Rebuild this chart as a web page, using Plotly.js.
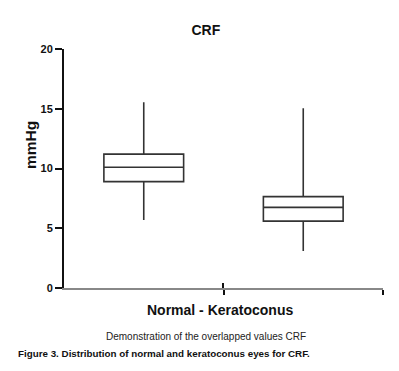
<!DOCTYPE html>
<html><head><meta charset="utf-8">
<script src="https://cdn.plot.ly/plotly-3.0.1.min.js"></script>
<style>html,body{margin:0;padding:0;background:#fff}#c{width:399px;height:371px}</style>
</head><body><div id="c"></div>
<script>
var groups = ["Normal", "Keratoconus"];
var lowerWhisker = [5.7, 3.1];
var q1 = [8.9, 5.6];
var median = [10.1, 6.75];
var q3 = [11.2, 7.65];
var upperWhisker = [15.55, 15.05];
var yTicks = [0, 5, 10, 15, 20];

var traces = groups.map(function(g, i){
  return {
    type: 'box', name: g, x: [i],
    q1: [q1[i]], median: [median[i]], q3: [q3[i]],
    lowerfence: [lowerWhisker[i]], upperfence: [upperWhisker[i]],
    width: 0.5, whiskerwidth: 0,
    fillcolor: 'rgba(255,255,255,0)',
    line: {color: '#333', width: 1.6},
    boxpoints: false, hoverinfo: 'skip', showlegend: false
  };
});
traces.push({type:'scatter', x:[0], y:[0], xaxis:'x2', mode:'markers', marker:{opacity:0}, showlegend:false, hoverinfo:'skip'});

var F = 'Liberation Sans, Arial, sans-serif';
var layout = {
  width: 399, height: 371,
  margin: {l: 64, r: 16, t: 49, b: 83},
  paper_bgcolor: '#fff', plot_bgcolor: '#fff',
  title: {text: '<b>CRF</b>', font: {family: F, size: 14, color: '#111'}, xref: 'container', yref: 'container', x: 0.516, xanchor: 'center', y: 0.919, yanchor: 'middle'},
  xaxis: {range: [-0.5, 1.5], tickvals: [0.5, 1.5], ticktext: ['', ''], ticks: 'outside', ticklen: 5, tickwidth: 2, tickcolor: '#111',
          showline: true, linecolor: '#888', linewidth: 2, showgrid: false, zeroline: false, fixedrange: true},
  xaxis2: {overlaying: 'x', range: [-0.5, 1.502], tickvals: [0.5, 1.499], ticktext: ['', ''], ticks: 'inside', ticklen: 5, tickwidth: 2, tickcolor: '#111',
          showline: false, showgrid: false, zeroline: false, side: 'bottom', fixedrange: true},
  yaxis: {range: [0, 20], tickvals: yTicks, ticktext: yTicks.map(function(v){return '<b>'+v+'</b>';}), ticks: 'outside', ticklen: 7, tickwidth: 2, tickcolor: '#111',
          showline: true, linecolor: '#111', linewidth: 2, showgrid: false, zeroline: false,
          tickfont: {family: F, size: 11, color: '#111'}, fixedrange: true},
  annotations: [
    {text: '<b>mmHg</b>', textangle: -90, xref: 'paper', yref: 'paper', x: -0.107, y: 0.598, xanchor: 'center', yanchor: 'middle', showarrow: false, font: {family: F, size: 15.5, color: '#111'}},
    {text: '<b>Normal - Keratoconus</b>', xref: 'paper', yref: 'paper', x: 0.489, y: -0.092, xanchor: 'center', yanchor: 'middle', showarrow: false, font: {family: F, size: 14, color: '#111'}},
    {text: 'Demonstration of the overlapped values CRF', xref: 'paper', yref: 'paper', x: 0.445, y: -0.205, xanchor: 'center', yanchor: 'middle', showarrow: false, font: {family: F, size: 10, color: '#222'}},
    {text: '<b>Figure 3. Distribution of normal and keratoconus eyes for CRF.</b>', xref: 'paper', yref: 'paper', x: -0.150, y: -0.272, xanchor: 'left', yanchor: 'middle', showarrow: false, font: {family: F, size: 9.8, color: '#111'}}
  ]
};
Plotly.newPlot('c', traces, layout, {displayModeBar: false, staticPlot: true});
</script></body></html>
